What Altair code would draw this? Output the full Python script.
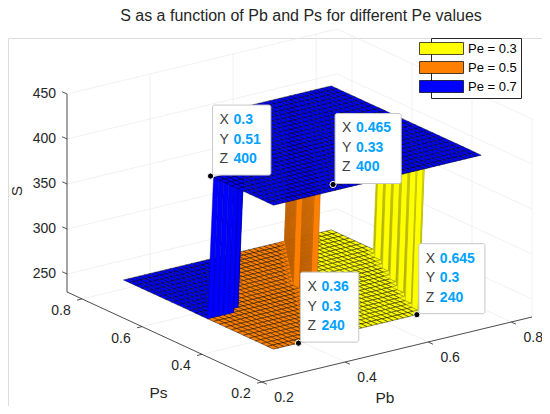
import numpy as np
import pandas as pd
import altair as alt

# ---------------- values ----------------
pe_names = ["Pe = 0.3", "Pe = 0.5", "Pe = 0.7"]
pe_colors = ["#ffff00", "#ff8000", "#0000ff"]
pe_wall_edges = ["#a8a800", "#b35a00", "#0000a8"]

# sampling grid of the surfaces (Pb, Ps)
pb_grid = np.linspace(0.3, 0.8, 41)
ps_grid = np.linspace(0.3, 0.8, 26)

# the two levels of S
s_low = 240
s_high = 400

# step edges
# Pe = 0.3 : S = 400 where Pb is beyond this edge
yellow_edge_ps = [0.30, 0.50, 0.66, 0.80]
yellow_edge_pb = [0.655, 0.735, 0.80, 0.90]
# Pe = 0.5 : S = 400 where Pb is beyond this edge
orange_edge_ps = [0.30, 0.55, 0.80]
orange_edge_pb = [0.40, 0.545, 0.69]
# Pe = 0.7 : S = 400 where Ps is below this edge
blue_edge_pb = [0.30, 0.37, 0.57, 0.80]
blue_edge_ps = [0.51, 0.515, 0.80, 1.00]

# data tips
tip_pb = [0.3, 0.465, 0.36, 0.645]
tip_ps = [0.51, 0.33, 0.3, 0.3]
tip_s = [400, 400, 240, 240]

# axes
pb_ticks = [0.2, 0.4, 0.6, 0.8]
ps_ticks = [0.2, 0.4, 0.6, 0.8]
s_ticks = [250, 300, 350, 400, 450]
pb_lim = [0.2, 0.85]
ps_lim = [0.2, 0.85]
s_lim = [230, 450]

title_text = "S as a function of Pb and Ps for different Pe values"

# ---------------- 3-D view (orthographic, az ~ -35.5, el ~ 19) ----------------
ORIGIN_X, ORIGIN_Y = 262.0, 382.0
PB_DX, PB_DY = 415.4, -100.0
PS_DX, PS_DY = -300.0, -138.5
S_DY = -0.9
DEPTH = (-280.6, -396.3, 0.3135)


def project(pb, ps, s):
    a = np.asarray(pb, dtype=float) - pb_lim[0]
    b = np.asarray(ps, dtype=float) - ps_lim[0]
    c = np.asarray(s, dtype=float) - s_lim[0]
    return ORIGIN_X + PB_DX * a + PS_DX * b, ORIGIN_Y + PB_DY * a + PS_DY * b + S_DY * c


def depth(pb, ps, s):
    return (DEPTH[0] * (pb - pb_lim[0]) + DEPTH[1] * (ps - ps_lim[0])
            + DEPTH[2] * (s - s_lim[0]))


# ---------------- surfaces ----------------
GPB, GPS = np.meshgrid(pb_grid, ps_grid, indexing="ij")
S_yellow = np.where(GPB > np.interp(GPS, yellow_edge_ps, yellow_edge_pb), s_high, s_low)
S_orange = np.where(GPB > np.interp(GPS, orange_edge_ps, orange_edge_pb), s_high, s_low)
S_blue = np.where(GPS <= np.interp(GPB, blue_edge_pb, blue_edge_ps) + 1e-9, s_high, s_low)
surfaces = [S_yellow, S_orange, S_blue]

nb, ns = len(pb_grid), len(ps_grid)
quads = []
for k, S in enumerate(surfaces):
    for i in range(nb - 1):
        for j in range(ns - 1):
            idx = [(i, j), (i + 1, j), (i + 1, j + 1), (i, j + 1)]
            zs = [S[a, b] for a, b in idx]
            # a face lying exactly on a face of a later-drawn surface is hidden by it
            hidden = any(all(surfaces[m][a, b] == z for (a, b), z in zip(idx, zs))
                         for m in range(k + 1, len(surfaces)))
            if hidden:
                continue
            pbs = [pb_grid[a] for a, b in idx]
            pss = [ps_grid[b] for a, b in idx]
            d = depth(np.mean(pbs), np.mean(pss), np.mean(zs))
            quads.append((d, k, pbs, pss, zs))
quads.sort(key=lambda q: (q[0], q[1]))

rows = []
for n, (d, k, pbs, pss, zs) in enumerate(quads):
    xs, ys = project(pbs + pbs[:1], pss + pss[:1], zs + zs[:1])
    edge = "#000000" if len(set(zs)) == 1 else pe_wall_edges[k]
    for v in range(5):
        rows.append({"qid": f"q{n:05d}", "v": v, "x": xs[v], "y": ys[v],
                     "pe": pe_names[k], "edge": edge})
surf_df = pd.DataFrame(rows)

# ---------------- scales (image pixels) ----------------
PAD_TOP = 30
W, H = 534, 398 - PAD_TOP
xs_scale = alt.Scale(domain=[8, 8 + W], zero=False, nice=False)
ys_scale = alt.Scale(domain=[8 + PAD_TOP, 8 + PAD_TOP + H], zero=False, nice=False, reverse=True)
X = lambda f="x": alt.X(f"{f}:Q", scale=xs_scale, axis=None)
Y = lambda f="y": alt.Y(f"{f}:Q", scale=ys_scale, axis=None)

FONT = "Liberation Sans"
AX = "#262626"

# ---------------- faint grid on the back planes ----------------
g = []
def seg(store, gid, p0, p1):
    x, y = project([p0[0], p1[0]], [p0[1], p1[1]], [p0[2], p1[2]])
    store.append({"gid": gid, "v": 0, "x": x[0], "y": y[0]})
    store.append({"gid": gid, "v": 1, "x": x[1], "y": y[1]})

for t in pb_ticks:
    seg(g, f"fpb{t}", (t, ps_lim[0], s_lim[0]), (t, ps_lim[1], s_lim[0]))
    seg(g, f"bpb{t}", (t, ps_lim[1], s_lim[0]), (t, ps_lim[1], s_lim[1]))
for t in ps_ticks:
    seg(g, f"fps{t}", (pb_lim[0], t, s_lim[0]), (pb_lim[1], t, s_lim[0]))
    seg(g, f"bps{t}", (pb_lim[1], t, s_lim[0]), (pb_lim[1], t, s_lim[1]))
for t in s_ticks:
    seg(g, f"bs1{t}", (pb_lim[0], ps_lim[1], t), (pb_lim[1], ps_lim[1], t))
    seg(g, f"bs2{t}", (pb_lim[1], ps_lim[0], t), (pb_lim[1], ps_lim[1], t))
grid_df = pd.DataFrame(g)

# ---------------- axis lines and ticks ----------------
a = []
seg(a, "zaxis", (pb_lim[0], ps_lim[1], s_lim[0]), (pb_lim[0], ps_lim[1], s_lim[1]))
seg(a, "psaxis", (pb_lim[0], ps_lim[1], s_lim[0]), (pb_lim[0], ps_lim[0], s_lim[0]))
seg(a, "pbaxis", (pb_lim[0], ps_lim[0], s_lim[0]), (pb_lim[1], ps_lim[0], s_lim[0]))
for t in pb_ticks:
    seg(a, f"tpb{t}", (t, ps_lim[0], s_lim[0]), (t, ps_lim[0] - 0.016, s_lim[0]))
for t in ps_ticks:
    seg(a, f"tps{t}", (pb_lim[0], t, s_lim[0]), (pb_lim[0] - 0.012, t, s_lim[0]))
for t in s_ticks:
    seg(a, f"ts{t}", (pb_lim[0], ps_lim[1], t), (pb_lim[0], ps_lim[1] + 0.016, t))
axis_df = pd.DataFrame(a)

# tick labels
lx, ly = project(pb_ticks, [ps_lim[0]] * 4, [s_lim[0]] * 4)
pb_lab = pd.DataFrame({"x": lx + 22, "y": ly + 16, "t": [f"{t:g}" for t in pb_ticks]})
lx, ly = project([pb_lim[0]] * 4, ps_ticks, [s_lim[0]] * 4)
ps_lab = pd.DataFrame({"x": lx - 21, "y": ly + 12, "t": [f"{t:g}" for t in ps_ticks]})
lx, ly = project([pb_lim[0]] * 5, [ps_lim[1]] * 5, s_ticks)
s_lab = pd.DataFrame({"x": lx - 11, "y": ly, "t": [f"{t:g}" for t in s_ticks]})

mx, my = project([np.mean(pb_lim)], [ps_lim[0]], [s_lim[0]])
pb_title = pd.DataFrame({"x": mx - 12, "y": my + 48, "t": ["Pb"]})
mx, my = project([pb_lim[0]], [np.mean(ps_lim)], [s_lim[0]])
ps_title = pd.DataFrame({"x": mx - 6, "y": my + 56, "t": ["Ps"]})
mx, my = project([pb_lim[0]], [ps_lim[1]], [np.mean(s_lim)])
s_title = pd.DataFrame({"x": mx - 50, "y": my - 2, "t": ["S"]})

# chart title, centred over the plot, just above the box's top back corner
bx, by = project([pb_lim[1]], [ps_lim[1]], [s_lim[1]])
title_df = pd.DataFrame({"x": [301.0], "y": by - 8, "t": [title_text]})

# ---------------- data tips ----------------
def fmt(v):
    return f"{v:g}"

def text_w(s):
    return sum(3.9 if ch == "." else 7.8 for ch in s)

px, py = project(tip_pb, tip_ps, tip_s)
box_rows, lab_rows, val_rows = [], [], []
for i in range(len(tip_pb)):
    vals = [fmt(tip_pb[i]), fmt(tip_ps[i]), fmt(tip_s[i])]
    w = 31 + max(text_w(v) for v in vals)
    box_rows.append({"x": px[i] + 2, "x2": px[i] + 2 + w, "y": py[i] - 71, "y2": py[i] - 1})
    for r, (lab, v) in enumerate(zip(["X", "Y", "Z"], vals)):
        lab_rows.append({"x": px[i] + 9, "y": py[i] - 56 + 19.5 * r, "t": lab})
        val_rows.append({"x": px[i] + 23, "y": py[i] - 56 + 19.5 * r, "t": v})
box_df = pd.DataFrame(box_rows)
lab_df = pd.DataFrame(lab_rows)
val_df = pd.DataFrame(val_rows)
dot_df = pd.DataFrame({"x": px, "y": py})

# ---------------- layers ----------------
grid = alt.Chart(grid_df).mark_line(stroke="#ebebeb", strokeWidth=0.7).encode(
    x=X(), y=Y(), detail="gid:N", order="v:Q")

legend = alt.Legend(title=None, orient="none", legendX=423, legendY=0,
                    symbolType="M-3.667,-1L3.667,-1L3.667,1L-3.667,1Z",
                    symbolSize=144, symbolStrokeColor="#000000",
                    symbolStrokeWidth=0.7, symbolOpacity=1,
                    labelFont=FONT, labelFontSize=13, labelColor="#000000",
                    labelOffset=20, rowPadding=4, padding=4,
                    strokeColor="#262626", fillColor="white", labelLimit=200)

surf = alt.Chart(surf_df).mark_line(strokeWidth=0.45, strokeJoin="round").encode(
    x=X(), y=Y(), detail="qid:N", order="v:Q",
    stroke=alt.Stroke("edge:N", scale=None),
    fill=alt.Fill("pe:N", scale=alt.Scale(domain=pe_names, range=pe_colors), legend=legend))

axes = alt.Chart(axis_df).mark_line(stroke=AX, strokeWidth=0.8).encode(
    x=X(), y=Y(), detail="gid:N", order="v:Q")

def txt(df, **kw):
    base = dict(font=FONT, fontSize=14, color=AX, baseline="middle")
    base.update(kw)
    return alt.Chart(df).mark_text(**base).encode(x=X(), y=Y(), text="t:N")

labels = [
    txt(pb_lab, align="center"),
    txt(ps_lab, align="center"),
    txt(s_lab, align="right"),
    txt(pb_title, align="center", fontSize=15.5),
    txt(ps_title, align="center", fontSize=15.5),
    txt(s_title, align="center", fontSize=15.5, angle=270),
    txt(title_df, align="center", fontSize=16, baseline="alphabetic"),
]

boxes = alt.Chart(box_df).mark_rect(fill="white", stroke="#c8c8c8", strokeWidth=1, cornerRadius=2).encode(
    x=X(), x2="x2:Q", y=Y(), y2="y2:Q")
tip_lab = txt(lab_df, align="left", color="#404040", fontSize=14)
tip_val = txt(val_df, align="left", color="#00a2ff", fontSize=14, fontWeight="bold")
dots = alt.Chart(dot_df).mark_circle(size=38, color="black", stroke="white", strokeWidth=1, opacity=1).encode(
    x=X(), y=Y())

chart = alt.layer(grid, surf, axes, *labels, boxes, tip_lab, tip_val, dots).properties(
    width=W, height=H,
    padding={"left": 0, "top": PAD_TOP, "right": 0, "bottom": 0},
    autosize=alt.AutoSizeParams(type="none"),
).configure_view(stroke=None).configure(background="white")

chart.save("out.html", embed_options={"renderer": "svg", "actions": False})
